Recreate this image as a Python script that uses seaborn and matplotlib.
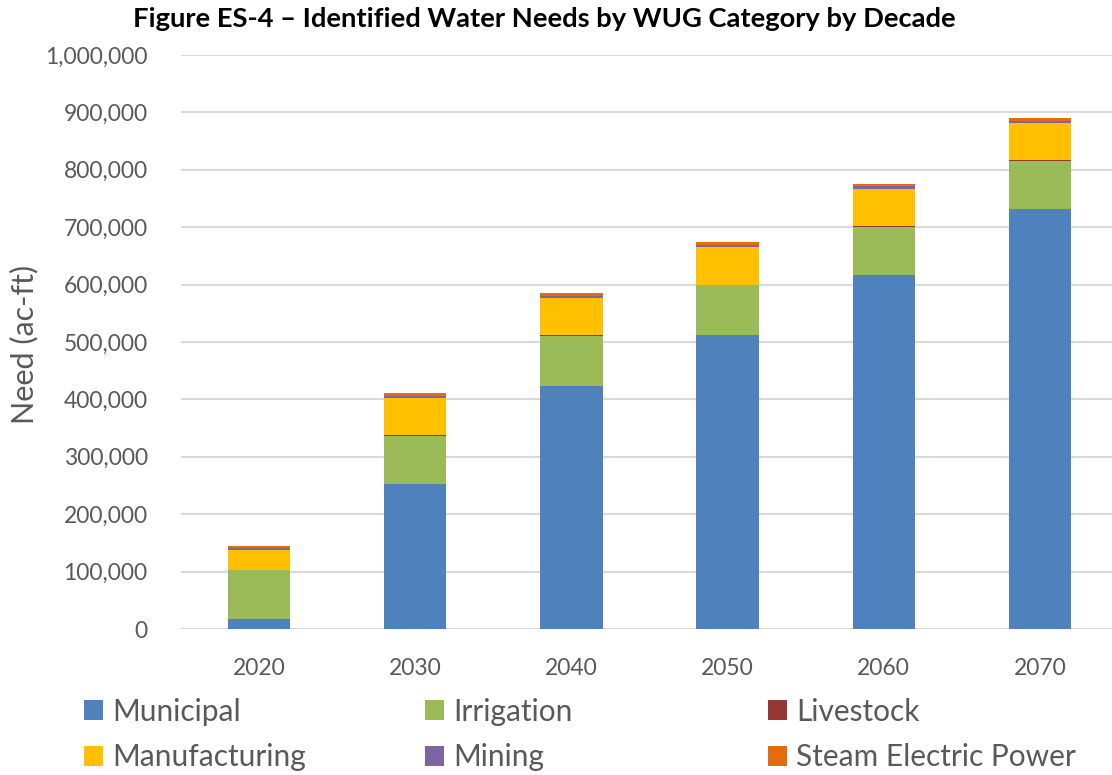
import matplotlib
matplotlib.use("Agg")
import matplotlib.pyplot as plt
import seaborn as sns
import numpy as np
from matplotlib.patches import Patch
from matplotlib.ticker import FuncFormatter

# Needs by decade (ac-ft)
decades = ["2020", "2030", "2040", "2050", "2060", "2070"]
municipal = [17000, 253000, 424000, 513000, 616000, 731000]
irrigation = [85000, 84000, 86000, 85500, 85000, 84500]
livestock = [1500, 1500, 2000, 1500, 1500, 1500]
manufacturing = [34000, 63500, 65000, 65500, 64500, 64500]
mining = [3000, 4500, 3000, 4000, 4000, 4000]
steam_electric = [4500, 5000, 5000, 4500, 5000, 5000]

categories = ["Municipal", "Irrigation", "Livestock", "Manufacturing", "Mining", "Steam Electric Power"]
series = [municipal, irrigation, livestock, manufacturing, mining, steam_electric]
colors = ["#4F81BD", "#9BBB59", "#953735", "#FFC000", "#8064A2", "#E46C0A"]

sns.set_style("white")
plt.rcParams['font.family'] = ['Lato', 'DejaVu Sans']

fig = plt.figure(figsize=(11.12, 7.75), dpi=100)
ax = fig.add_axes([181 / 1112, 146 / 775, 937 / 1112, 574 / 775])

bottom = np.zeros(len(decades))
for name, vals, col in zip(categories, series, colors):
    sns.barplot(x=decades, y=vals, bottom=bottom, color=col, width=0.4,
                ax=ax, linewidth=0, saturation=1)
    bottom += np.array(vals)

ax.set_ylim(0, 1000000)
ax.set_xlim(-0.5, 5.5)
ax.set_yticks(np.arange(0, 1000001, 100000))
ax.yaxis.set_major_formatter(FuncFormatter(lambda v, p: f"{int(v):,}"))
ax.yaxis.grid(True, color="#D9D9D9", linewidth=1.5)
ax.set_axisbelow(True)
for s in ax.spines.values():
    s.set_visible(False)
ax.tick_params(axis="both", length=0, labelsize=16.5, labelcolor="#595959")
ax.tick_params(axis="y", pad=24)
ax.tick_params(axis="x", pad=21)

ax.set_xlabel("")
ax.set_ylabel("")
fig.text(24 / 1112, 1 - 344 / 775, "Need (ac-ft)", rotation=90, ha="center", va="center",
         fontsize=22, color="#595959")
fig.text(544 / 1112, 1 - 19 / 775, "Figure ES-4 \u2013 Identified Water Needs by WUG Category by Decade",
         ha="center", va="center", fontsize=19.7, fontweight="bold", color="black")

# legend: three fixed-width columns of two rows each, like the reference
col_x = [84, 425, 768]
for c, xpos in enumerate(col_x):
    idx = [c, c + 3]
    handles = [Patch(facecolor=colors[i], edgecolor="none") for i in idx]
    labels = [categories[i] for i in idx]
    fig.legend(handles, labels, loc="center left",
               bbox_to_anchor=(xpos / 1112, 1 - 734.5 / 775),
               frameon=False, fontsize=21.5, labelcolor="#595959",
               handlelength=0.62, handleheight=0.62, handletextpad=0.32,
               labelspacing=0.6, borderpad=0, borderaxespad=0)

fig.savefig("out.png", dpi=100)
